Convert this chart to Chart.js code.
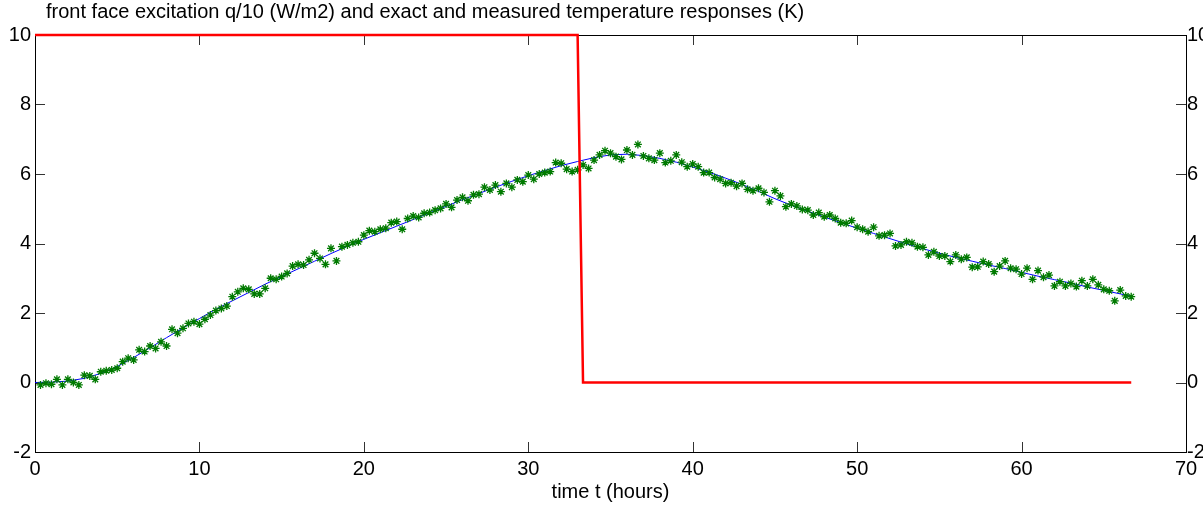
<!DOCTYPE html>
<html>
<head>
<meta charset="utf-8">
<script src="https://cdn.jsdelivr.net/npm/chart.js@4/dist/chart.umd.min.js"></script>
<style>
  html, body { margin: 0; padding: 0; background: #fff; }
  #wrap { width: 1203px; height: 506px; position: relative; }
</style>
</head>
<body>
<div id="wrap"><canvas id="chart"></canvas></div>
<script>
// excitation q/10 (step)
const qTime = [0, 33, 33.33, 66.67]
const qValue = [10, 10, 0, 0]

// exact temperature response, read once per hour
const exactTime = [0, 1, 2, 3, 4, 5, 6, 7, 8, 9, 10, 11, 12, 13, 14, 15, 16, 17, 18, 19, 20,
  21, 22, 23, 24, 25, 26, 27, 28, 29, 30, 31, 32, 33, 34, 35, 36, 37, 38, 39, 40,
  41, 42, 43, 44, 45, 46, 47, 48, 49, 50, 51, 52, 53, 54, 55, 56, 57, 58, 59, 60,
  61, 62, 63, 64, 65, 66, 66.67]
const exactTemp = [0.00, 0.01, 0.04, 0.12, 0.26, 0.46, 0.72, 1.00, 1.29, 1.57, 1.84,
  2.11, 2.35, 2.59, 2.83, 3.05, 3.27, 3.49, 3.71, 3.92, 4.12,
  4.31, 4.50, 4.69, 4.88, 5.07, 5.26, 5.44, 5.62, 5.79, 5.95,
  6.10, 6.24, 6.36, 6.47, 6.55, 6.57, 6.53, 6.45, 6.34, 6.20,
  6.05, 5.88, 5.70, 5.50, 5.29, 5.10, 4.93, 4.76, 4.60, 4.44,
  4.29, 4.14, 3.99, 3.85, 3.72, 3.60, 3.49, 3.38, 3.28, 3.17,
  3.06, 2.96, 2.86, 2.75, 2.65, 2.55, 2.48]

// measured temperatures, one sample every 20 minutes (1/3 h), first at t = 1/3 h
const sampleStep = 1 / 3
const measuredTemp = [
  -0.07, -0.02, -0.05, 0.09, -0.07, 0.09, 0.00, -0.07, 0.21, 0.19, 0.09, 0.31, 0.34, 0.36, 0.41, 0.60, 0.70,
  0.65, 0.94, 0.89, 1.05, 0.98, 1.17, 1.05, 1.53, 1.42, 1.56, 1.70, 1.75, 1.68, 1.82, 1.94, 2.07, 2.13,
  2.20, 2.47, 2.61, 2.71, 2.68, 2.55, 2.55, 2.71, 3.00, 2.97, 3.05, 3.14, 3.35, 3.40, 3.38, 3.53, 3.72,
  3.57, 3.40, 3.86, 3.50, 3.91, 3.96, 4.02, 4.05, 4.24, 4.37, 4.34, 4.41, 4.44, 4.60, 4.63, 4.41,
  4.72, 4.79, 4.75, 4.87, 4.89, 4.96, 5.01, 5.14, 5.04, 5.25, 5.33, 5.23, 5.40, 5.42, 5.62, 5.54, 5.68,
  5.49, 5.73, 5.62, 5.83, 5.78, 5.97, 5.85, 6.00, 6.04, 6.07, 6.33, 6.31, 6.14, 6.07, 6.12, 6.26,
  6.16, 6.40, 6.55, 6.67, 6.60, 6.50, 6.42, 6.69, 6.55, 6.85, 6.52, 6.45, 6.40, 6.60, 6.33, 6.38, 6.55,
  6.34, 6.21, 6.29, 6.21, 6.04, 6.04, 5.90, 5.85, 5.73, 5.75, 5.65, 5.73, 5.56, 5.52, 5.59, 5.47,
  5.20, 5.52, 5.37, 5.06, 5.14, 5.08, 4.98, 4.96, 4.82, 4.89, 4.77, 4.82, 4.72, 4.60, 4.58, 4.66, 4.47,
  4.41, 4.34, 4.47, 4.22, 4.24, 4.29, 3.93, 3.96, 4.05, 4.02, 3.91, 3.89, 3.67, 3.76, 3.64, 3.64,
  3.48, 3.67, 3.55, 3.60, 3.32, 3.33, 3.48, 3.41, 3.19, 3.35, 3.50, 3.29, 3.26, 3.12, 3.29, 2.97, 3.22,
  3.03, 3.09, 2.78, 2.90, 2.78, 2.85, 2.76, 2.93, 2.78, 2.97, 2.81, 2.68, 2.64, 2.35, 2.66, 2.49, 2.47
]

// axes
const xTicks = [0, 10, 20, 30, 40, 50, 60, 70]
const yTicks = [-2, 0, 2, 4, 6, 8, 10]

const titleText = "front face excitation q/10 (W/m2) and exact and measured temperature responses (K)"
const xLabel = "time t (hours)"

const toPoints = (xs, ys) => xs.map((x, i) => ({ x: x, y: ys[i] }))
const measuredPoints = measuredTemp.map((v, i) => ({ x: (i + 1) * sampleStep, y: v }))

// box round the plot with inward tick marks, plus the title line
const matlabFrame = {
  id: "matlabFrame",
  beforeDatasetsDraw(chart) {
    const { ctx, chartArea: a, scales } = chart
    const len = 10
    ctx.save()
    ctx.strokeStyle = "#333"
    ctx.lineWidth = 1
    ctx.beginPath()
    xTicks.forEach(v => {
      const px = Math.round(scales.x.getPixelForValue(v)) + 0.5
      ctx.moveTo(px, a.bottom); ctx.lineTo(px, a.bottom - len)
      ctx.moveTo(px, a.top); ctx.lineTo(px, a.top + len)
    })
    yTicks.forEach(v => {
      const py = Math.round(scales.y.getPixelForValue(v)) + 0.5
      ctx.moveTo(a.left, py); ctx.lineTo(a.left + len, py)
      ctx.moveTo(a.right, py); ctx.lineTo(a.right - len, py)
    })
    ctx.stroke()
    ctx.strokeStyle = "#000"
    ctx.strokeRect(Math.round(a.left) + 0.5, Math.round(a.top) + 0.5,
      Math.round(a.width), Math.round(a.height))
    ctx.restore()
  },
  afterDraw(chart) {
    const ctx = chart.ctx
    ctx.save()
    ctx.font = "20px 'Liberation Sans', Arial, sans-serif"
    ctx.fillStyle = "#000"
    ctx.textBaseline = "middle"
    ctx.fillText(titleText, 46, 12)
    ctx.restore()
  }
}

Chart.defaults.font.family = "'Liberation Sans', Arial, sans-serif"
Chart.defaults.color = "#000"

new Chart(document.getElementById("chart"), {
  type: "line",
  data: {
    datasets: [
      {
        label: "q/10",
        data: toPoints(qTime, qValue),
        borderColor: "#ff0000",
        borderWidth: 2.5,
        pointRadius: 0,
        tension: 0,
        clip: false,
      },
      {
        label: "measured",
        data: measuredPoints,
        showLine: false,
        pointStyle: "star",
        pointRadius: 4,
        borderColor: "#007a00",
        backgroundColor: "#007a00",
        pointBorderWidth: 1.3,
      },
      {
        label: "exact",
        data: toPoints(exactTime, exactTemp),
        borderColor: "#0000ff",
        borderWidth: 1,
        pointRadius: 0,
        tension: 0,
      },
    ],
  },
  options: {
    responsive: true,
    maintainAspectRatio: false,
    animation: false,
    layout: { padding: { top: 35, left: 0, right: 0, bottom: 0 } },
    plugins: {
      legend: { display: false },
      tooltip: { enabled: false },
    },
    scales: {
      x: {
        type: "linear",
        position: "bottom",
        min: 0,
        max: 70,
        afterBuildTicks: s => { s.ticks = xTicks.map(v => ({ value: v })) },
        afterFit: s => { s.height = 54 },
        grid: { display: false, drawTicks: false },
        border: { display: false },
        ticks: { padding: 5, maxRotation: 0, font: { size: 20 } },
        title: { display: true, text: xLabel, font: { size: 20 }, padding: { top: 0, bottom: 2 } },
      },
      y: {
        position: "left",
        min: -2,
        max: 10,
        afterBuildTicks: s => { s.ticks = yTicks.map(v => ({ value: v })) },
        afterFit: s => { s.width = 35 },
        grid: { display: false, drawTicks: false },
        border: { display: false },
        ticks: { padding: 4, font: { size: 20 } },
      },
      y2: {
        position: "right",
        min: -2,
        max: 10,
        afterBuildTicks: s => { s.ticks = yTicks.map(v => ({ value: v })) },
        afterFit: s => { s.width = 17 },
        grid: { display: false, drawTicks: false },
        border: { display: false },
        ticks: { padding: 1, font: { size: 20 } },
      },
    },
  },
  plugins: [matlabFrame],
})
</script>
</body>
</html>
